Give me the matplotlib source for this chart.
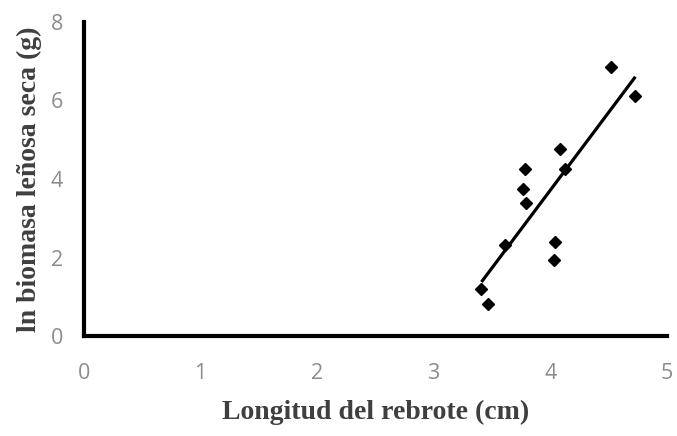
import matplotlib

matplotlib.use("Agg")
import matplotlib.pyplot as plt
import numpy as np

# shoot length (cm) vs ln dry woody biomass (g)
longitud = [4.52, 4.73, 4.08, 4.13, 3.78, 3.77, 3.79, 3.61, 4.04, 4.03, 3.41, 3.47]
ln_biomasa = [6.86, 6.11, 4.76, 4.25, 4.25, 3.74, 3.38, 2.32, 2.40, 1.95, 1.19, 0.82]
x_ticks = [0, 1, 2, 3, 4, 5]
y_ticks = [0, 2, 4, 6, 8]

TICK_COLOR = "#8c8c8c"
LABEL_COLOR = "#3f3f3f"

fig = plt.figure(figsize=(6.77, 4.36), dpi=100)
ax = fig.add_axes([0.124, 0.229, 0.861, 0.721])

ax.plot(longitud, ln_biomasa, linestyle="none", marker="D", markersize=6.5, color="black")

# linear trend line over the data range
x = np.asarray(longitud)
slope, intercept = np.polyfit(x, np.asarray(ln_biomasa), 1)
xl = np.array([x.min(), x.max()])
ax.plot(xl, slope * xl + intercept, color="black", linewidth=2.3, solid_capstyle="butt")

ax.set_xlim(0, 5)
ax.set_ylim(0, 8)
ax.set_xticks(x_ticks)
ax.set_yticks(y_ticks)
for side in ("top", "right"):
    ax.spines[side].set_visible(False)
for side in ("left", "bottom"):
    ax.spines[side].set_linewidth(3)
    ax.spines[side].set_color("black")
ax.tick_params(axis="both", length=0, labelcolor=TICK_COLOR, labelsize=15.5)
ax.tick_params(axis="x", pad=19)
ax.tick_params(axis="y", pad=15)
for lbl in ax.get_xticklabels() + ax.get_yticklabels():
    lbl.set_family("Open Sans")

ax.set_xlabel("Longitud del rebrote (cm)", family="Liberation Serif", fontweight="bold",
              fontsize=20, color=LABEL_COLOR, labelpad=12)
ax.set_ylabel("ln biomasa leñosa seca (g)", family="Liberation Serif", fontweight="bold",
              fontsize=20, color=LABEL_COLOR, labelpad=6)

fig.savefig("out.png", dpi=100)
